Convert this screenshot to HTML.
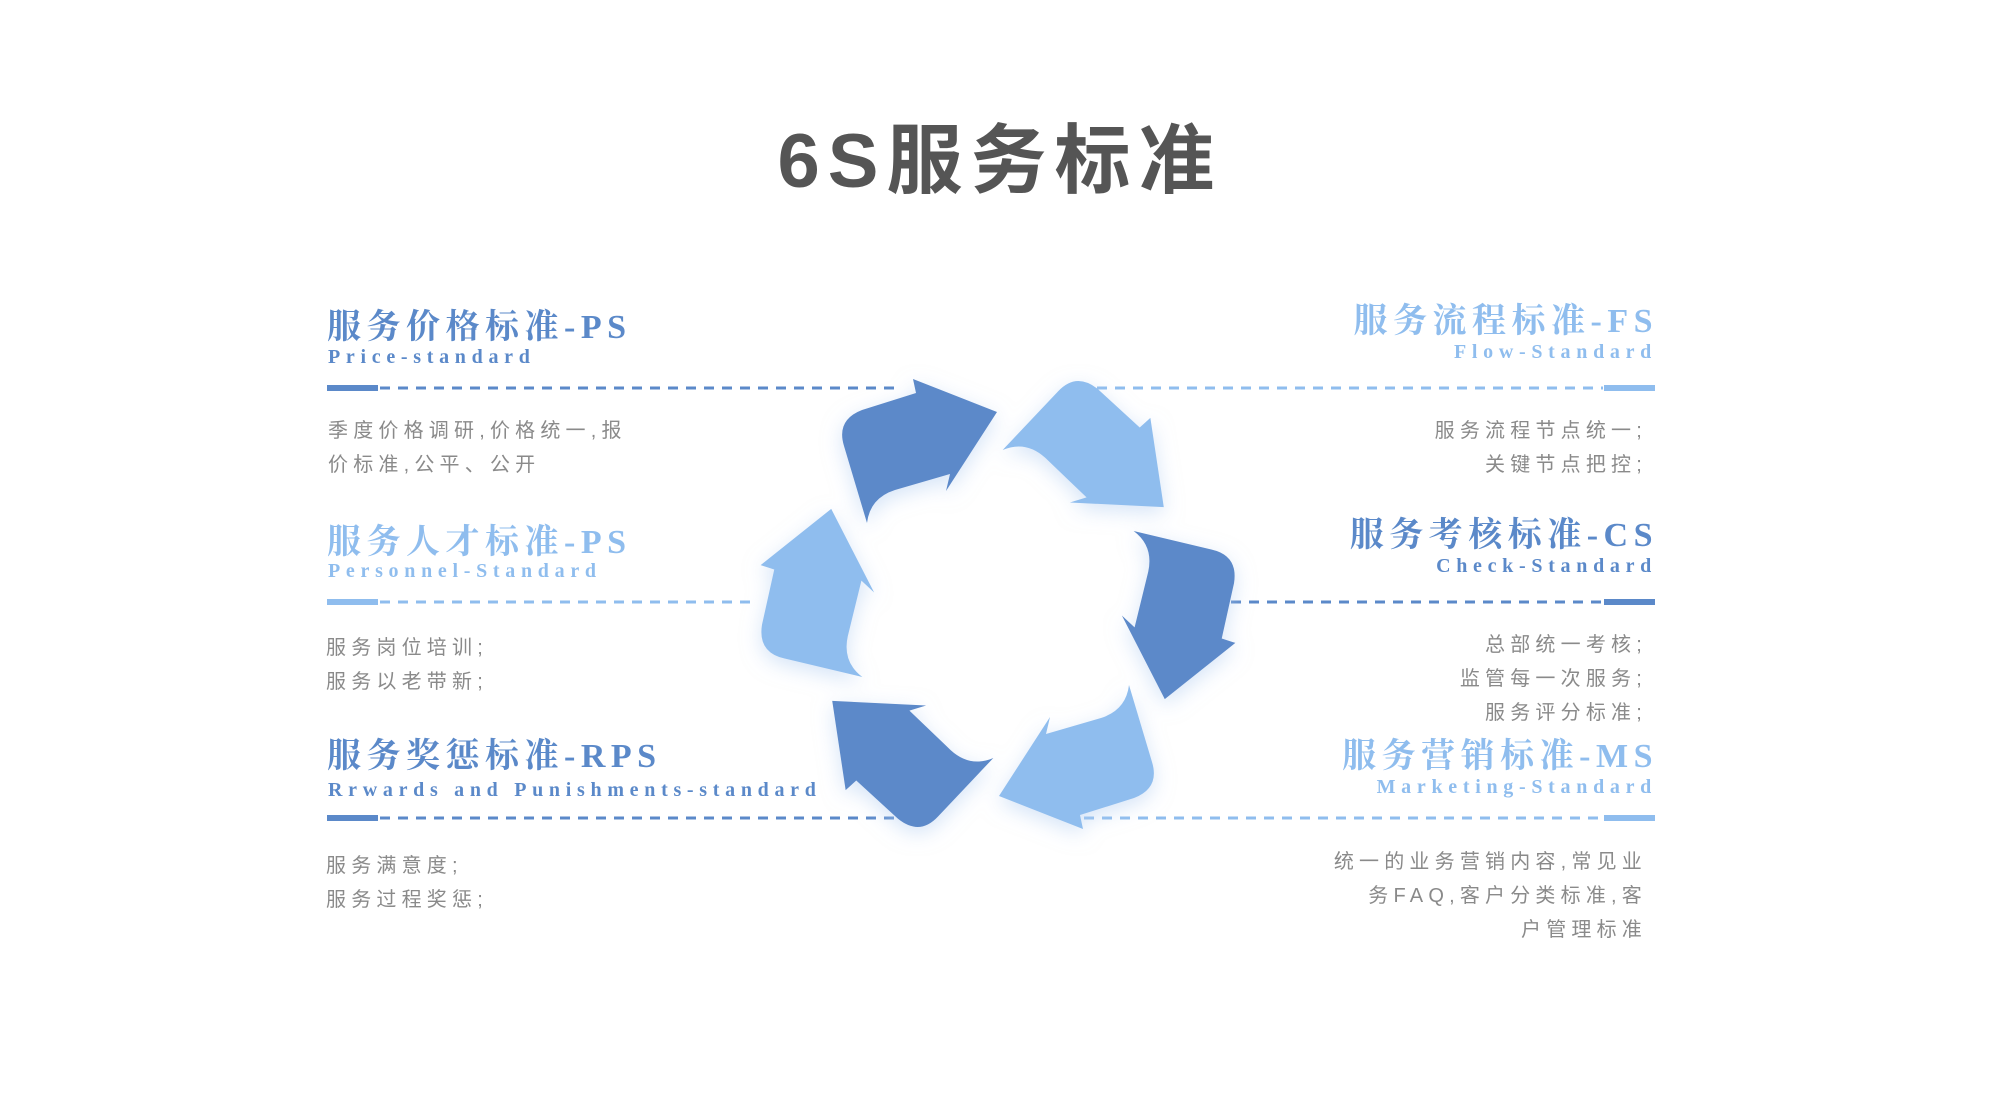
<!DOCTYPE html>
<html><head><meta charset="utf-8"><style>
body{margin:0;width:2000px;height:1117px;background:#fff;position:relative;overflow:hidden;font-family:"Liberation Sans","Noto Sans CJK SC",sans-serif}
.t{position:absolute;white-space:nowrap;line-height:1}
.h{font-family:"Liberation Serif","Noto Serif CJK SC",serif;font-weight:bold;font-size:34px;letter-spacing:5.5px}
.s{font-family:"Liberation Serif","Noto Serif CJK SC",serif;font-weight:bold;font-size:20px;letter-spacing:5.7px}
.b{font-size:20px;color:#8a8a8a;letter-spacing:5.2px;line-height:34px}
.d{color:#5b89c9}.l{color:#8fbdee}
.r{text-align:right}
</style></head><body>
<div class="t" style="left:0;width:2000px;text-align:center;top:124px;font-size:76px;font-weight:bold;color:#555;letter-spacing:8px">6S服务标准</div>

<svg width="2000" height="1117" style="position:absolute;left:0;top:0">
<defs><filter id="g" x="-30%" y="-30%" width="160%" height="160%"><feDropShadow dx="0" dy="6" stdDeviation="10" flood-color="#b3cff2" flood-opacity="0.55"/></filter>
<path id="p" d="M867 523 L844 446 Q836 420 862 410 L916 393 L913 379 L997 412 L946 491 L950 474 L895 490 Q870 498 867 523 Z"/></defs>
<g stroke-width="3" stroke-dasharray="10 8">
<line x1="380" y1="388" x2="900" y2="388" stroke="#5b89c9"/>
<line x1="380" y1="602" x2="752" y2="602" stroke="#8fbdee"/>
<line x1="380" y1="818" x2="900" y2="818" stroke="#5b89c9"/>
<line x1="1097" y1="388" x2="1603" y2="388" stroke="#8fbdee"/>
<line x1="1231" y1="602" x2="1603" y2="602" stroke="#5b89c9"/>
<line x1="1084" y1="818" x2="1603" y2="818" stroke="#8fbdee"/>
</g>
<g stroke-width="6">
<line x1="327" y1="388" x2="378" y2="388" stroke="#5b89c9"/>
<line x1="327" y1="602" x2="378" y2="602" stroke="#8fbdee"/>
<line x1="327" y1="818" x2="378" y2="818" stroke="#5b89c9"/>
<line x1="1604" y1="388" x2="1655" y2="388" stroke="#8fbdee"/>
<line x1="1604" y1="602" x2="1655" y2="602" stroke="#5b89c9"/>
<line x1="1604" y1="818" x2="1655" y2="818" stroke="#8fbdee"/>
</g>
<g filter="url(#g)">
<use href="#p" fill="#5b89c9"/>
<use href="#p" transform="rotate(60 998 604)" fill="#8fbdee"/>
<use href="#p" transform="rotate(120 998 604)" fill="#5b89c9"/>
<use href="#p" transform="rotate(180 998 604)" fill="#8fbdee"/>
<use href="#p" transform="rotate(240 998 604)" fill="#5b89c9"/>
<use href="#p" transform="rotate(300 998 604)" fill="#8fbdee"/>
</g>
</svg>

<div class="t h d" style="left:327px;top:311px">服务价格标准-PS</div>
<div class="t s d" style="left:328px;top:347px">Price-standard</div>
<div class="t b" style="left:328px;top:414px">季度价格调研,价格统一,报<br>价标准,公平、公开</div>

<div class="t h l" style="left:327px;top:526px">服务人才标准-PS</div>
<div class="t s l" style="left:328px;top:561px">Personnel-Standard</div>
<div class="t b" style="left:326px;top:631px">服务岗位培训;<br>服务以老带新;</div>

<div class="t h d" style="left:327px;top:740px">服务奖惩标准-RPS</div>
<div class="t s d" style="left:328px;top:780px">Rrwards and Punishments-standard</div>
<div class="t b" style="left:326px;top:849px">服务满意度;<br>服务过程奖惩;</div>

<div class="t h l r" style="right:342px;top:305px">服务流程标准-FS</div>
<div class="t s l r" style="right:343px;top:342px">Flow-Standard</div>
<div class="t b r" style="right:353px;top:414px">服务流程节点统一;<br>关键节点把控;</div>

<div class="t h d r" style="right:342px;top:519px">服务考核标准-CS</div>
<div class="t s d r" style="right:343px;top:556px">Check-Standard</div>
<div class="t b r" style="right:353px;top:628px">总部统一考核;<br>监管每一次服务;<br>服务评分标准;</div>

<div class="t h l r" style="right:342px;top:740px">服务营销标准-MS</div>
<div class="t s l r" style="right:343px;top:777px">Marketing-Standard</div>
<div class="t b r" style="right:353px;top:845px">统一的业务营销内容,常见业<br>务FAQ,客户分类标准,客<br>户管理标准</div>
</body></html>
